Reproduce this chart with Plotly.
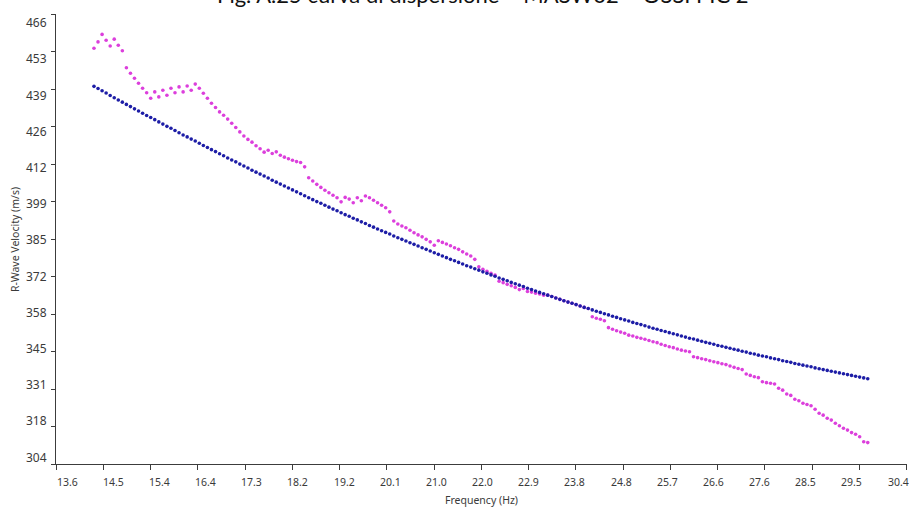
import plotly.graph_objects as go
import numpy as np

# ---------------- data ----------------
freq = [
    14.35, 14.43, 14.51, 14.59, 14.67, 14.75, 14.83, 14.91, 14.99, 15.07,
    15.15, 15.23, 15.31, 15.39, 15.47, 15.55, 15.63, 15.71, 15.79, 15.87,
    15.95, 16.03, 16.11, 16.19, 16.27, 16.35, 16.43, 16.51, 16.59, 16.67,
    16.75, 16.83, 16.91, 16.99, 17.07, 17.15, 17.23, 17.31, 17.39, 17.47,
    17.55, 17.63, 17.71, 17.79, 17.87, 17.95, 18.03, 18.11, 18.19, 18.27,
    18.35, 18.43, 18.51, 18.59, 18.67, 18.75, 18.83, 18.91, 18.99, 19.07,
    19.15, 19.23, 19.31, 19.39, 19.47, 19.55, 19.63, 19.71, 19.79, 19.87,
    19.95, 20.03, 20.11, 20.19, 20.27, 20.35, 20.43, 20.51, 20.59, 20.67,
    20.75, 20.83, 20.91, 20.99, 21.07, 21.15, 21.23, 21.31, 21.39, 21.47,
    21.55, 21.63, 21.71, 21.79, 21.87, 21.95, 22.03, 22.11, 22.19, 22.27,
    22.35, 22.43, 22.51, 22.59, 22.67, 22.75, 22.83, 22.91, 22.99, 23.07,
    23.15, 23.23, 23.31, 23.39, 23.47, 23.55, 23.63, 23.71, 23.79, 23.87,
    23.95, 24.03, 24.11, 24.19, 24.27, 24.35, 24.43, 24.51, 24.59, 24.67,
    24.75, 24.83, 24.91, 24.99, 25.07, 25.15, 25.23, 25.31, 25.39, 25.47,
    25.55, 25.63, 25.71, 25.79, 25.87, 25.95, 26.03, 26.11, 26.19, 26.27,
    26.35, 26.43, 26.51, 26.59, 26.67, 26.75, 26.83, 26.91, 26.99, 27.07,
    27.15, 27.23, 27.31, 27.39, 27.47, 27.55, 27.63, 27.71, 27.79, 27.87,
    27.95, 28.03, 28.11, 28.19, 28.27, 28.35, 28.43, 28.51, 28.59, 28.67,
    28.75, 28.83, 28.91, 28.99, 29.07, 29.15, 29.23, 29.31, 29.39, 29.47,
    29.55, 29.63,
]

velocity_theoretical = [
    440.0, 439.2, 438.4, 437.6, 436.7, 435.9, 435.1, 434.3, 433.5, 432.7,
    431.9, 431.1, 430.3, 429.5, 428.8, 428.0, 427.2, 426.4, 425.6, 424.9,
    424.1, 423.3, 422.5, 421.8, 421.0, 420.3, 419.5, 418.7, 418.0, 417.2,
    416.5, 415.7, 415.0, 414.2, 413.5, 412.8, 412.0, 411.3, 410.6, 409.8,
    409.1, 408.4, 407.7, 407.0, 406.2, 405.5, 404.8, 404.1, 403.4, 402.7,
    402.0, 401.3, 400.6, 399.9, 399.2, 398.5, 397.9, 397.2, 396.5, 395.8,
    395.2, 394.5, 393.8, 393.2, 392.5, 391.9, 391.2, 390.6, 389.9, 389.3,
    388.6, 388.0, 387.4, 386.8, 386.1, 385.5, 384.9, 384.3, 383.7, 383.1,
    382.5, 381.9, 381.3, 380.7, 380.1, 379.5, 378.9, 378.3, 377.7, 377.2,
    376.6, 376.0, 375.4, 374.9, 374.3, 373.8, 373.2, 372.7, 372.1, 371.6,
    371.0, 370.5, 370.0, 369.4, 368.9, 368.4, 367.9, 367.3, 366.8, 366.3,
    365.8, 365.3, 364.8, 364.3, 363.8, 363.3, 362.8, 362.3, 361.9, 361.4,
    360.9, 360.4, 360.0, 359.5, 359.0, 358.6, 358.1, 357.7, 357.2, 356.8,
    356.3, 355.9, 355.5, 355.0, 354.6, 354.2, 353.8, 353.3, 352.9, 352.5,
    352.1, 351.7, 351.3, 350.9, 350.5, 350.1, 349.7, 349.3, 349.0, 348.6,
    348.2, 347.8, 347.5, 347.1, 346.7, 346.4, 346.0, 345.7, 345.3, 345.0,
    344.6, 344.3, 343.9, 343.6, 343.2, 342.9, 342.6, 342.2, 341.9, 341.6,
    341.2, 340.9, 340.6, 340.2, 339.9, 339.6, 339.3, 339.0, 338.6, 338.3,
    338.0, 337.7, 337.4, 337.1, 336.8, 336.5, 336.2, 335.9, 335.6, 335.3,
    335.0, 334.7,
]

velocity_experimental = [
    453.7, 456.0, 458.7, 456.6, 454.5, 457.0, 454.8, 452.8, 446.7, 444.7,
    442.9, 441.1, 439.3, 437.7, 435.7, 438.0, 436.2, 438.6, 436.8, 439.3,
    437.7, 439.8, 438.0, 440.1, 438.6, 440.8, 439.3, 437.5, 435.7, 433.9,
    432.4, 430.8, 429.6, 428.2, 426.7, 425.2, 423.6, 422.1, 420.9, 419.9,
    418.6, 417.5, 416.3, 417.0, 415.8, 416.4, 415.2, 414.5, 413.9, 413.4,
    412.9, 412.6, 411.0, 407.1, 405.9, 404.7, 403.6, 402.6, 401.7, 400.8,
    399.9, 398.4, 400.0, 399.4, 398.1, 399.9, 398.8, 400.5, 399.9, 399.0,
    398.1, 397.2, 396.3, 394.8, 391.5, 390.4, 389.7, 389.1, 388.2, 387.3,
    386.5, 385.8, 384.9, 384.0, 382.8, 384.4, 383.8, 383.2, 382.6, 381.9,
    381.3, 380.4, 379.6, 378.9, 377.7, 375.0, 374.1, 373.4, 372.7, 372.0,
    369.8, 369.3, 368.7, 368.2, 367.6, 366.8, 367.2, 366.1, 365.9, 365.5,
    365.2, 364.8, 364.8, 364.3, 363.8, 363.3, 362.8, 362.3, 361.9, 361.4,
    360.9, 360.4, 360.0, 357.0, 356.5, 356.1, 355.6, 353.1, 352.5, 352.0,
    351.5, 351.1, 350.4, 350.1, 349.6, 349.3, 348.9, 348.5, 348.0, 347.7,
    347.1, 346.7, 346.2, 345.9, 345.4, 345.0, 344.7, 344.4, 342.6, 342.3,
    341.9, 341.6, 341.2, 340.8, 340.5, 340.1, 339.8, 339.3, 338.8, 338.4,
    338.0, 336.4, 335.9, 335.4, 335.1, 333.6, 333.3, 333.1, 332.8, 331.3,
    330.6, 329.2, 328.7, 327.3, 326.8, 325.9, 325.4, 325.0, 323.7, 322.3,
    321.6, 320.5, 319.8, 318.7, 317.8, 316.9, 316.2, 315.3, 314.7, 313.8,
    312.0, 311.7,
]

x_tick_labels = ["13.6", "14.5", "15.4", "16.4", "17.3", "18.2", "19.2", "20.1",
                 "21.0", "22.0", "22.9", "23.8", "24.8", "25.7", "26.6", "27.6",
                 "28.5", "29.5", "30.4"]
y_tick_labels = ["304", "318", "331", "345", "358", "372", "385", "399",
                 "412", "426", "439", "453", "466"]

title_text = "Fig. A.25 curva di dispersione \u2013 MASW02 \u2013 OSSI PIC 2"
x_title = "Frequency (Hz)"
y_title = "R-Wave Velocity (m/s)"

# ---------------- layout ----------------
X_MIN, X_MAX = 13.6, 30.4
Y_MIN, Y_MAX = 304, 466
x_tick_vals = [round(v, 4) for v in np.linspace(X_MIN, X_MAX, len(x_tick_labels))]
y_tick_vals = [round(v, 4) for v in np.linspace(Y_MIN, Y_MAX, len(y_tick_labels))]

W, H = 909, 507
M_L, M_R, M_T, M_B = 56, 2, 14, 43
PW, PH = W - M_L - M_R, H - M_T - M_B


def px_to_paper_x(px):
    return (px - M_L) / PW


def px_to_paper_y(py):
    return 1 - (py - M_T) / PH


axis_col = "#3c3c3c"
text_col = "#3a3a3a"
font_fam = "Noto Sans, Open Sans, sans-serif"
x_tick_font = dict(family=font_fam, size=10.5, color=text_col)
y_tick_font = dict(family=font_fam, size=12, color=text_col)
title_font = dict(family=font_fam, size=10.5, color=text_col)

fig = go.Figure()
fig.add_trace(go.Scatter(
    x=freq[:len(velocity_experimental)], y=velocity_experimental,
    mode="markers", marker=dict(size=3.6, color="#dc3fdc", line=dict(width=0)),
    name="experimental", showlegend=False, cliponaxis=False, hoverinfo="x+y",
))
fig.add_trace(go.Scatter(
    x=freq[:len(velocity_theoretical)], y=velocity_theoretical,
    mode="markers", marker=dict(size=3.6, color="#1d1da6", line=dict(width=0)),
    name="theoretical", showlegend=False, cliponaxis=False, hoverinfo="x+y",
))

annotations = []
# x tick labels (the source chart spaces its labels slightly tighter than its ticks)
n_x = len(x_tick_labels)
for k, lab in enumerate(x_tick_labels):
    cx = 67 + k * (898 - 67) / (n_x - 1)
    annotations.append(dict(
        text=lab, xref="paper", yref="paper",
        x=px_to_paper_x(cx), y=px_to_paper_y(481.5),
        xanchor="center", yanchor="middle", showarrow=False, font=x_tick_font))
# y tick labels (top label sits lower than its tick, bottom label a bit higher)
n_y = len(y_tick_labels)
for k, lab in enumerate(y_tick_labels[::-1]):
    cy = 22.7 + k * (457.0 - 22.7) / (n_y - 1)
    annotations.append(dict(
        text=lab, xref="paper", yref="paper",
        x=px_to_paper_x(48.5), y=px_to_paper_y(cy),
        xanchor="right", yanchor="middle", showarrow=False, font=y_tick_font))

annotations += [
    dict(text=title_text, xref="paper", yref="paper",
         x=px_to_paper_x(483), y=px_to_paper_y(10),
         xanchor="center", yanchor="bottom", showarrow=False,
         font=dict(family="Lato, sans-serif", size=22, color="#111111")),
    dict(text=x_title, xref="paper", yref="paper",
         x=px_to_paper_x(481), y=px_to_paper_y(500),
         xanchor="center", yanchor="middle", showarrow=False, font=title_font),
    dict(text=y_title, xref="paper", yref="paper",
         x=px_to_paper_x(15), y=px_to_paper_y(240), textangle=-90,
         xanchor="center", yanchor="middle", showarrow=False, font=title_font),
]

fig.update_layout(
    width=W, height=H,
    margin=dict(l=M_L, r=M_R, t=M_T, b=M_B, pad=0),
    paper_bgcolor="white", plot_bgcolor="white",
    showlegend=False,
    xaxis=dict(
        range=[X_MIN, X_MAX + 0.005], showgrid=False, zeroline=False,
        showline=True, linecolor=axis_col, linewidth=1,
        ticks="outside", ticklen=5, tickwidth=1, tickcolor=axis_col,
        tickvals=x_tick_vals, showticklabels=False,
    ),
    yaxis=dict(
        range=[Y_MIN, Y_MAX + 0.05], showgrid=False, zeroline=False,
        showline=True, linecolor=axis_col, linewidth=1,
        ticks="outside", ticklen=4, tickwidth=1, tickcolor=axis_col,
        tickvals=y_tick_vals, showticklabels=False,
    ),
    annotations=annotations,
)

fig.write_html(
    "out.html",
    config={"displayModeBar": False},
    post_script="document.body.style.margin='0';document.body.style.overflow='hidden';",
)
